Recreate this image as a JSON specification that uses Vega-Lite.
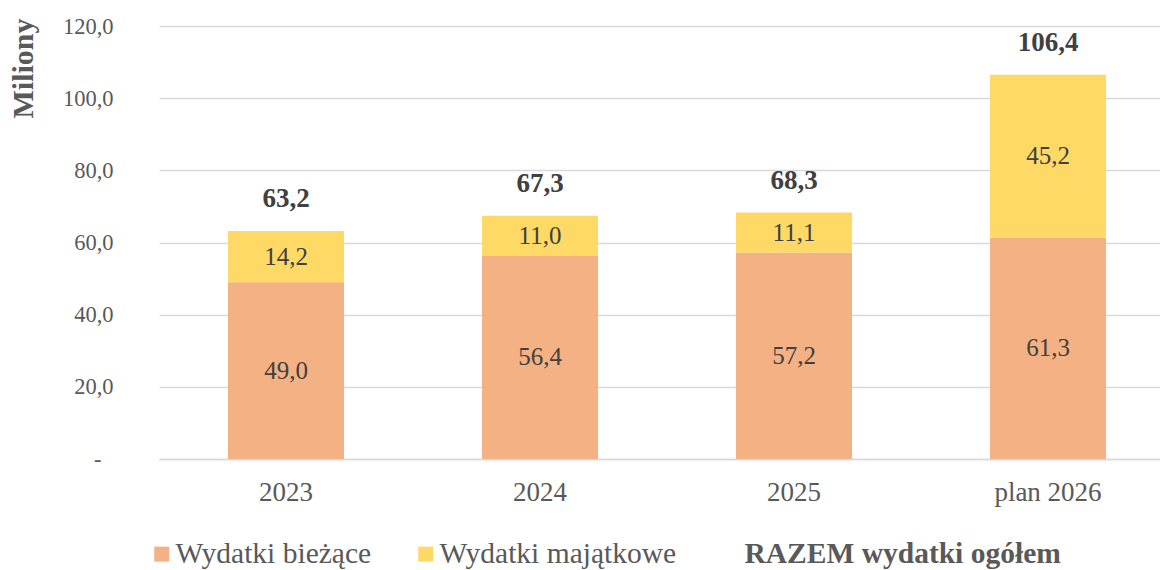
{
  "$schema": "https://vega.github.io/schema/vega-lite/v6.json",
  "width": 1001,
  "height": 433,
  "autosize": {"type": "none"},
  "padding": {"left": 159, "top": 26, "right": 0, "bottom": 111},
  "background": "white",
  "config": {
    "font": "Liberation Serif",
    "axis": {"labelFont": "Liberation Serif", "titleFont": "Liberation Serif"},
    "legend": {"labelFont": "Liberation Serif", "titleFont": "Liberation Serif"},
    "text": {"font": "Liberation Serif"},
    "view": {"stroke": null},
    "locale": {"number": {"decimal": ",", "thousands": " ", "grouping": [3], "currency": ["", " zł"]}}
  },
  "datasets": {
    "parts": [
      {"year": "2023", "series": "Wydatki bieżące", "amount": 49.0},
      {"year": "2023", "series": "Wydatki majątkowe", "amount": 14.2},
      {"year": "2024", "series": "Wydatki bieżące", "amount": 56.4},
      {"year": "2024", "series": "Wydatki majątkowe", "amount": 11.0},
      {"year": "2025", "series": "Wydatki bieżące", "amount": 57.2},
      {"year": "2025", "series": "Wydatki majątkowe", "amount": 11.1},
      {"year": "plan 2026", "series": "Wydatki bieżące", "amount": 61.3},
      {"year": "plan 2026", "series": "Wydatki majątkowe", "amount": 45.2}
    ],
    "totals": [
      {"year": "2023", "total": 63.2},
      {"year": "2024", "total": 67.3},
      {"year": "2025", "total": 68.3},
      {"year": "plan 2026", "total": 106.4}
    ]
  },
  "layer": [
    {
      "data": {"name": "parts"},
      "mark": {"type": "bar"},
      "encoding": {
        "x": {
          "field": "year", "type": "nominal",
          "sort": ["2023", "2024", "2025", "plan 2026"],
          "scale": {"domain": ["2023", "2024", "2025", "plan 2026"], "range": [0, 1016], "paddingInner": 0.543, "paddingOuter": 0.2715},
          "axis": {"title": null, "labelAngle": 0, "labelFont": "Liberation Serif", "labelFontSize": 27, "labelColor": "#595959", "ticks": false, "labelPadding": 20, "domainColor": "#D9D9D9", "domainWidth": 1.5}
        },
        "y": {
          "field": "amount", "type": "quantitative", "stack": "zero",
          "scale": {"domain": [0, 120], "nice": false},
          "axis": {
            "title": "Miliony", "titleFont": "Liberation Serif", "titleFontSize": 30, "titleFontWeight": "bold", "titleColor": "#595959",
            "titleX": -136, "titleY": -8, "titleAlign": "right", "titleAngle": -90, "titleBaseline": "middle",
            "values": [0, 20, 40, 60, 80, 100, 120], "format": ".1f",
            "labelExpr": "datum.value === 0 ? '-' : datum.label",
            "labelFont": "Liberation Serif", "labelFontSize": 22.5, "labelColor": "#595959",
            "labelPadding": {"condition": {"test": "datum.value === 0", "value": 58}, "value": 46},
            "ticks": false, "domain": false, "grid": true, "gridColor": "#D9D9D9", "gridWidth": 1.5
          }
        },
        "color": {
          "field": "series", "type": "nominal",
          "scale": {"domain": ["Wydatki bieżące", "Wydatki majątkowe", "RAZEM wydatki ogółem"], "range": ["#F4B183", "#FFD966", "transparent"]},
          "legend": {
            "title": null, "orient": "none", "legendX": -12, "legendY": 513, "direction": "horizontal", "columns": 3,
            "columnPadding": 39, "symbolType": "square", "symbolSize": 225, "symbolStrokeWidth": 0,
            "labelFont": "Liberation Serif", "labelFontSize": 29.5, "labelColor": "#595959", "labelOffset": -1, "labelLimit": 500, "padding": 0,
            "labelFontWeight": {"expr": "datum.label == 'RAZEM wydatki ogółem' ? 'bold' : 'normal'"}
          }
        },
        "order": {"field": "series", "sort": "ascending"}
      }
    },
    {
      "data": {"name": "parts"},
      "transform": [
        {"stack": "amount", "groupby": ["year"], "sort": [{"field": "series", "order": "ascending"}], "as": ["v0", "v1"]},
        {"fold": ["v0", "v1"], "as": ["edge", "pos"]}
      ],
      "mark": {"type": "text", "font": "Liberation Serif", "fontSize": 25, "color": "#404040", "baseline": "middle"},
      "encoding": {
        "x": {"field": "year", "type": "nominal", "sort": ["2023", "2024", "2025", "plan 2026"]},
        "y": {"field": "pos", "type": "quantitative", "aggregate": "mean", "stack": null},
        "detail": {"field": "series", "type": "nominal"},
        "text": {"field": "amount", "aggregate": "max", "type": "quantitative", "format": ".1f"}
      }
    },
    {
      "data": {"name": "totals"},
      "mark": {"type": "text", "font": "Liberation Serif", "fontSize": 27, "fontWeight": "bold", "color": "#404040", "baseline": "alphabetic", "dy": -24},
      "encoding": {
        "x": {"field": "year", "type": "nominal", "sort": ["2023", "2024", "2025", "plan 2026"]},
        "y": {"field": "total", "type": "quantitative"},
        "text": {"field": "total", "type": "quantitative", "format": ".1f"}
      }
    }
  ]
}
